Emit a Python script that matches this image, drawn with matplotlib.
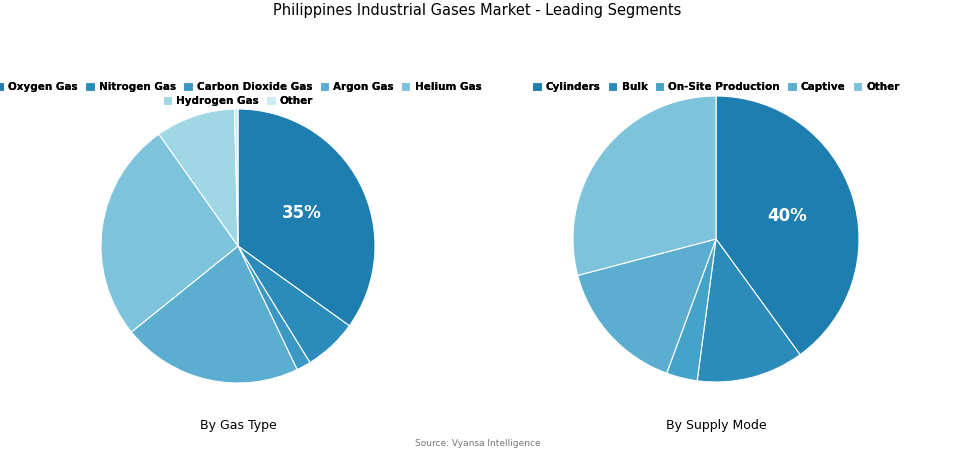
import numpy as np
import matplotlib.pyplot as plt

gas_labels = ['Oxygen Gas', 'Nitrogen Gas', 'Carbon Dioxide Gas', 'Argon Gas', 'Helium Gas', 'Hydrogen Gas', 'Other']
gas_values = [34.9, 6.3, 1.7, 21.3, 26.0, 9.4, 0.4]
gas_colors = ['#1f7eb0', '#2b8cbc', '#3b98c4', '#5caed0', '#7dc3dc', '#a0d7e5', '#c9ebf1']

mode_labels = ['Cylinders', 'Bulk', 'On-Site Production', 'Captive', 'Other']
mode_values = [40.0, 12.1, 3.5, 15.3, 29.1]
mode_colors = ['#1f7eb0', '#2b8cbc', '#45a3c9', '#5caed0', '#7dc3dc']

W, H = 955, 454
fig = plt.figure(figsize=(9.55, 4.54), dpi=100)
fig.text(0.5, 1 - 10 / H, 'Philippines Industrial Gases Market - Leading Segments',
         ha='center', va='center', fontsize=10.5)

def legend_row(handles, labels, cx, y):
    leg = fig.legend(handles, labels, loc='center', bbox_to_anchor=(cx, 1 - y / H),
                     ncol=len(labels), frameon=False, prop=dict(weight='bold', size=7.5),
                     handlelength=0.9, handleheight=0.9, handletextpad=0.4,
                     columnspacing=0.7, borderpad=0)
    fig.add_artist(leg)

def draw(box, labels, values, colors, sub, rows):
    x0, y0, x1, y1 = box
    ax = fig.add_axes([x0 / W, 1 - y1 / H, (x1 - x0) / W, (y1 - y0) / H])
    wedges, _ = ax.pie(values, colors=colors, startangle=90, counterclock=False,
                       wedgeprops=dict(edgecolor='white', linewidth=0.8))
    ax.set_xlim(-1, 1); ax.set_ylim(-1, 1)
    mid = np.deg2rad(90 - values[0] / sum(values) * 180)
    ax.text(0.52 * np.cos(mid), 0.52 * np.sin(mid), f'{values[0]:.0f}%', color='white',
            fontsize=12, fontweight='bold', ha='center', va='center')
    cx = (x0 + x1) / 2 / W
    for (a, b), y in zip(rows, [87, 101]):
        legend_row(wedges[a:b], labels[a:b], cx, y)
    fig.text(cx, 1 - 425 / H, sub, ha='center', va='center', fontsize=9)

draw((101, 109, 375, 383), gas_labels, gas_values, gas_colors, 'By Gas Type', [(0, 5), (5, 7)])
draw((573, 96, 859, 382), mode_labels, mode_values, mode_colors, 'By Supply Mode', [(0, 5)])

fig.text(0.5, 1 - 444 / H, 'Source: Vyansa Intelligence', ha='center', va='center',
         fontsize=6.5, color='#777777')
fig.savefig('out.png', dpi=100)
